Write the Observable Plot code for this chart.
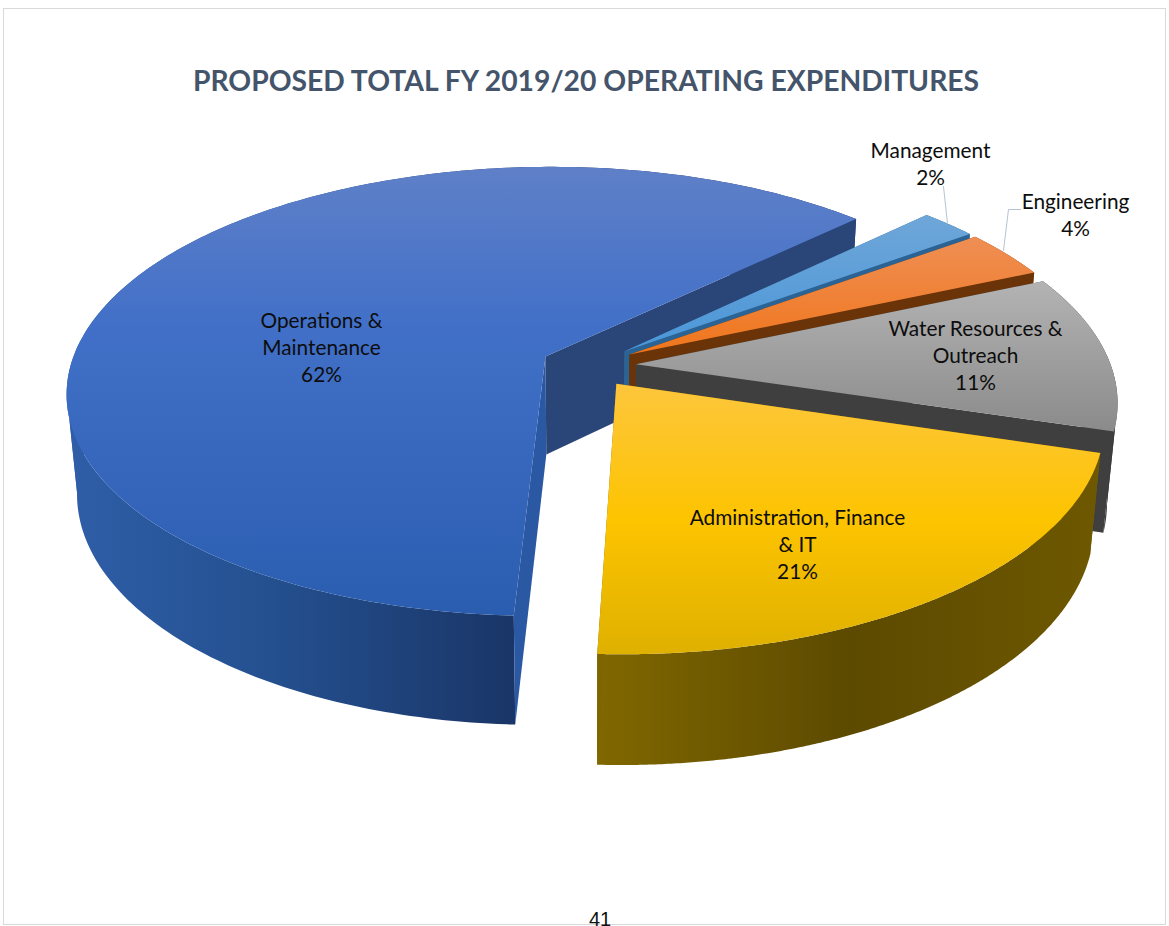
<!DOCTYPE html>
<html>
<head>
<meta charset="utf-8">
<script src="https://cdn.jsdelivr.net/npm/d3@7"></script>
<script src="https://cdn.jsdelivr.net/npm/@observablehq/plot@0.6"></script>
<style>
  html,body{margin:0;padding:0;background:#fff;overflow:hidden}
  #page{position:relative;width:1169px;height:926px;overflow:hidden;font-family:Lato,sans-serif}
  #frame{position:absolute;left:3px;top:8px;width:1163px;height:917px;border:1px solid #d9d9d9;box-sizing:border-box}
  #title{position:absolute;left:0;width:1172px;top:60px;text-align:center;font-weight:700;font-size:28.3px;line-height:40px;color:#44546a;white-space:nowrap}
  #chart{position:absolute;left:0;top:130px}
  #folio{position:absolute;left:0;width:1200px;top:908px;text-align:center;font-family:"Liberation Sans",sans-serif;font-size:20px;color:#111}
</style>
</head>
<body>
<div id="page">
  <div id="frame"></div>
  <div id="title">PROPOSED TOTAL FY 2019/20 OPERATING EXPENDITURES</div>
  <div id="chart"></div>
  <div id="folio">41</div>
</div>
<script>
// ---- data ----
const categories = ["Management", "Engineering", "Water Resources &\nOutreach", "Administration, Finance\n& IT", "Operations &\nMaintenance"];
const shares = [2.2, 3.5, 11.2, 21, 62.1];   // labels show them rounded
const firstSliceAngle = 46;                  // degrees clockwise from "away from viewer"

// ---- styles ----
const topPaints  = ["url(#tMgmt)", "url(#tEng)", "url(#tWater)", "url(#tAdmin)", "url(#tOps)"];
const rimPaints  = ["#2f6a9c", "#7a3c0e", "#3b3b3b", "url(#rAdmin)", "url(#rOps)"];
const startWalls = ["#2f6a9c", "#6b3408", "#3f3f3f", "#7e6500", "#2b58a3"];
const endWalls   = ["#2b6494", "#6b3408", "#3f3f3f", "#7e6500", "#2a4577"];

// ---- 3-D pie projection ----
const cam = {cx: 588, cy: 365, D: 6.4, F: 3040, Fk: 1420, dropA: 38, dropB: 387, taper: 0.98, explode: 0.1};
const rad = d => d * Math.PI / 180;
function project(theta, r, mid, lower) {
  const X = r * Math.sin(rad(theta)) + cam.explode * Math.sin(rad(mid));
  const Y = r * Math.cos(rad(theta)) + cam.explode * Math.cos(rad(mid));
  const w = cam.D + Y;
  const dx = cam.F * X / w;
  return {
    x: cam.cx + dx * (lower ? cam.taper : 1),
    y: cam.cy - cam.Fk * Y / w + (lower ? cam.dropA + cam.dropB / w : 0)
  };
}
const total = d3.sum(shares);
let acc = firstSliceAngle;
const slices = shares.map((s, i) => {
  const a0 = acc, a1 = acc + s / total * 360;
  acc = a1;
  return {i, a0, a1, mid: (a0 + a1) / 2, s};
});
const STEPS = 240;
const arc = (sl, lower) => d3.range(0, STEPS + 1).map(k => project(sl.a0 + (sl.a1 - sl.a0) * k / STEPS, 1, sl.mid, lower));
function faces(sl) {
  const apexT = project(0, 0, sl.mid, false), apexB = project(0, 0, sl.mid, true);
  const top = arc(sl, false), bot = arc(sl, true);
  const startWall = {pts: [apexT, top[0], bot[0], apexB], fill: startWalls[sl.i]};
  const endWall = {pts: [apexT, top[STEPS], bot[STEPS], apexB], fill: endWalls[sl.i]};
  // the rim is split at the arc's side extremes, so each part closes along the straight silhouette
  const cuts = [...new Set([0, d3.leastIndex(top, d => d.x), d3.greatestIndex(top, d => d.x), STEPS])].sort((a, b) => a - b);
  const rims = d3.pairs(cuts).map(([a, b]) => ({
    pts: [...top.slice(a, b + 1), ...bot.slice(a, b + 1).reverse()],
    fill: rimPaints[sl.i]
  }));
  const cap = {pts: [apexT, ...top], fill: topPaints[sl.i]};
  return sl.s > 50 ? [...rims, startWall, endWall, cap] : [startWall, ...rims, endWall, cap];
}
const order = [4, 0, 1, 2, 3];       // painter's order: large slice at the back first
const allFaces = order.flatMap(i => faces(slices[i]));

// ---- label layout ----
const labelAt = [[930, 162], [1075, 213], [975, 354], [797, 543], [321, 346]];
const labels = categories.map((c, i) => ({text: `${c}\n${Math.round(shares[i])}%`, x: labelAt[i][0], y: labelAt[i][1]}));
const leaders = [
  [{x: 943, y: 186}, {x: 947, y: 223}],
  [{x: 1020, y: 209}, {x: 1008, y: 209}, {x: 1003, y: 250}]
];

const chart = Plot.plot({
  width: 1169, height: 660,
  margin: 0,
  x: {domain: [0, 1169], range: [0, 1169], axis: null},
  y: {domain: [130, 790], range: [0, 660], axis: null},
  style: {background: "transparent"},
  marks: [
    ...allFaces.map(f => Plot.line(f.pts, {x: "x", y: "y", fill: f.fill, stroke: "none"})),
    ...leaders.map(l => Plot.line(l, {x: "x", y: "y", stroke: "#b4c3d6", strokeWidth: 1})),
    Plot.text(labels, {x: "x", y: "y", text: "text", fontSize: 20.8, fill: "#0d0d0d", fontFamily: "Lato, sans-serif", lineHeight: 1.31})
  ]
});
// gradient coordinates are in the svg's own pixels (page y minus 130)
const stops = (id, c, a, b) => `<linearGradient id="${id}" gradientUnits="userSpaceOnUse" x1="0" x2="0" y1="${a}" y2="${b}">${c.map(([o, k]) => `<stop offset="${o}" stop-color="${k}"/>`).join("")}</linearGradient>`;
const hstops = (id, c, a, b) => `<linearGradient id="${id}" gradientUnits="userSpaceOnUse" y1="0" y2="0" x1="${a}" x2="${b}">${c.map(([o, k]) => `<stop offset="${o}" stop-color="${k}"/>`).join("")}</linearGradient>`;
const defs = document.createElementNS("http://www.w3.org/2000/svg", "defs");
defs.innerHTML =
  stops("tOps", [[0, "#5f80c8"], [0.35, "#4270c8"], [1, "#2a5db0"]], 37, 487) +
  stops("tMgmt", [[0, "#6ea6d8"], [1, "#4a96d8"]], 87, 222) +
  stops("tEng", [[0, "#ef8f55"], [1, "#f07418"]], 105, 230) +
  stops("tWater", [[0, "#b4b4b4"], [1, "#8b8b8b"]], 148, 300) +
  stops("tAdmin", [[0, "#fdc63c"], [0.5, "#fdc400"], [1, "#deb000"]], 255, 525) +
  hstops("rOps", [[0, "#2f5ea8"], [0.45, "#24508f"], [1, "#1a3567"]], 70, 516) +
  hstops("rAdmin", [[0, "#806700"], [0.5, "#5c4a00"], [1, "#6e5800"]], 598, 1102);
chart.insertBefore(defs, chart.firstChild);
document.getElementById("chart").append(chart);
</script>
</body>
</html>
